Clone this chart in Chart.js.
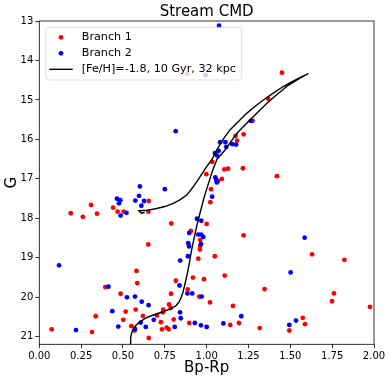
<!DOCTYPE html>
<html>
<head>
<meta charset="utf-8">
<script src="https://cdn.jsdelivr.net/npm/chart.js@4.4.1/dist/chart.umd.min.js"></script>
<style>
  html, body { margin: 0; padding: 0; background: #fff; }
</style>
</head>
<body>
<canvas id="cmd" width="390" height="382"></canvas>
<script>
// Branch 1 (red)
const branch1Color = [0.883, 1.450, 1.368, 1.275, 1.221, 1.173, 1.182, 1.034, 1.106, 1.128, 1.217, 1.420,
  0.998, 1.070, 1.091, 1.026, 1.022, 0.654, 0.309, 0.441, 0.468, 0.504, 0.188, 0.260, 0.345, 0.652,
  1.000, 0.789, 0.906, 1.221, 0.962, 0.651, 0.961, 0.960, 1.049, 0.950, 1.630, 1.823, 0.581, 1.108,
  0.918, 0.984, 0.816, 0.585, 0.394, 0.887, 1.346, 0.486, 0.787, 1.761, 0.956, 1.020, 1.749, 1.157,
  0.775, 0.785, 0.741, 0.739, 0.576, 0.516, 1.976, 0.337, 0.619, 0.703, 0.502, 0.803, 1.574, 0.727,
  0.896, 1.193, 1.141, 1.588, 0.550, 0.761, 0.733, 0.773, 0.570, 1.317, 1.494, 0.074, 0.315, 0.654]
const branch1Mag = [14.34, 14.31, 14.97, 15.53, 15.87, 15.91, 16.03, 16.57, 16.76, 16.74, 16.73, 16.93,
  16.88, 17.05, 17.00, 17.26, 17.59, 17.56, 17.66, 17.73, 17.83, 17.83, 17.87, 17.96, 17.88, 17.83,
  18.14, 18.13, 18.32, 18.43, 18.55, 18.66, 18.70, 18.79, 18.96, 19.02, 18.91, 19.05, 19.33, 19.45,
  19.50, 19.54, 19.58, 19.64, 19.74, 19.80, 19.79, 19.91, 19.91, 19.90, 19.98, 20.13, 20.10, 20.22,
  20.18, 20.27, 20.31, 20.38, 20.31, 20.36, 20.24, 20.48, 20.47, 20.46, 20.57, 20.56, 20.52, 20.63,
  20.65, 20.65, 20.70, 20.68, 20.73, 20.77, 20.81, 20.81, 20.84, 20.78, 20.84, 20.81, 20.88, 21.03]

// Branch 2 (blue)
const branch2Color = [1.074, 0.994, 1.264, 0.815, 1.080, 1.112, 1.153, 1.176, 1.117, 1.072, 1.050, 1.062,
  1.052, 1.057, 1.061, 1.033, 0.750, 0.601, 0.596, 0.574, 0.626, 0.610, 0.464, 0.484, 0.476, 0.521,
  0.486, 0.942, 0.968, 0.896, 0.950, 0.967, 0.980, 1.586, 0.890, 0.895, 0.966, 0.888, 0.842, 0.118,
  1.502, 0.838, 0.413, 0.885, 0.914, 0.970, 0.524, 0.572, 0.612, 0.653, 0.436, 0.841, 0.845, 0.684,
  1.207, 1.534, 0.606, 0.929, 1.100, 0.966, 1.000, 1.494, 0.472, 0.636, 0.809, 0.572, 0.219]
const branch2Mag = [13.12, 14.37, 15.53, 15.79, 16.07, 16.07, 16.12, 16.13, 16.19, 16.29, 16.35, 16.41,
  16.96, 17.03, 17.09, 17.45, 17.26, 17.19, 17.43, 17.55, 17.56, 17.68, 17.50, 17.54, 17.62, 17.86,
  17.93, 18.01, 18.06, 18.37, 18.41, 18.41, 18.47, 18.49, 18.63, 18.71, 18.65, 18.96, 19.07, 19.19,
  19.37, 19.70, 19.73, 19.90, 19.90, 19.98, 20.00, 19.98, 20.11, 20.20, 20.35, 20.38, 20.53, 20.57,
  20.48, 20.59, 20.64, 20.65, 20.66, 20.71, 20.75, 20.70, 20.74, 20.75, 20.75, 20.80, 20.83]

// isochrone [Fe/H]=-1.8, 10 Gyr, 32 kpc
const isoColor = [0.541, 0.543, 0.546, 0.556, 0.575, 0.602, 0.630, 0.661, 0.721, 0.781, 0.815, 0.835,
  0.848, 0.858, 0.871, 0.885, 0.898, 0.908, 0.920, 0.940, 0.960, 0.986, 1.012, 1.036, 1.062, 1.110,
  1.143, 1.180, 1.220, 1.259, 1.310, 1.359, 1.420, 1.478, 1.545, 1.607,
  1.560, 1.500, 1.458, 1.400, 1.339, 1.290, 1.239, 1.199, 1.139, 1.095, 1.060, 1.030, 1.000, 0.960,
  0.920, 0.881, 0.840, 0.801, 0.750, 0.701, 0.650, 0.622, 0.595, 0.610, 0.630]
const isoMag = [21.40, 21.19, 21.00, 20.85, 20.72, 20.62, 20.54, 20.48, 20.39, 20.30, 20.22, 20.12,
  20.00, 19.88, 19.65, 19.39, 19.10, 18.85, 18.60, 18.21, 17.87, 17.45, 17.10, 16.78, 16.50, 16.27,
  16.07, 15.85, 15.67, 15.51, 15.29, 15.09, 14.86, 14.66, 14.48, 14.33,
  14.43, 14.56, 14.66, 14.82, 15.00, 15.16, 15.34, 15.51, 15.76, 16.02, 16.27, 16.52, 16.69, 16.95,
  17.20, 17.41, 17.53, 17.62, 17.70, 17.75, 17.79, 17.80, 17.81, 17.87, 17.85]

const xTicks = [0, 0.25, 0.5, 0.75, 1, 1.25, 1.5, 1.75, 2]
const yTicks = [13, 14, 15, 16, 17, 18, 19, 20, 21]

const toPoints = (xs, ys) => xs.map((x, i) => ({x: x, y: ys[i]}))

Chart.defaults.font.family = '"DejaVu Sans", sans-serif'
Chart.defaults.color = '#000'

// frame + matplotlib style legend drawn over the data
const frameAndLegend = {
  id: 'frameAndLegend',
  afterDatasetsDraw(chart) {
    const ctx = chart.ctx
    const a = chart.chartArea
    ctx.save()
    ctx.strokeStyle = '#000'
    ctx.lineWidth = 0.8
    ctx.strokeRect(a.left, a.top, a.right - a.left, a.bottom - a.top)

    const x = a.left + 6.4, y = a.top + 6.3, w = 196, h = 52.7, r = 3
    ctx.beginPath()
    ctx.moveTo(x + r, y)
    ctx.arcTo(x + w, y, x + w, y + h, r)
    ctx.arcTo(x + w, y + h, x, y + h, r)
    ctx.arcTo(x, y + h, x, y, r)
    ctx.arcTo(x, y, x + w, y, r)
    ctx.closePath()
    ctx.fillStyle = 'rgba(255,255,255,0.8)'
    ctx.fill()
    ctx.strokeStyle = 'rgba(204,204,204,0.8)'
    ctx.lineWidth = 0.8
    ctx.stroke()

    ctx.font = '11.2px "DejaVu Sans"'
    ctx.textBaseline = 'middle'
    chart.data.datasets.forEach((ds, i) => {
      const rowY = y + 10 + i * 16
      if (ds.showLine) {
        ctx.beginPath()
        ctx.moveTo(x + 3.6, rowY)
        ctx.lineTo(x + 27, rowY)
        ctx.strokeStyle = ds.borderColor
        ctx.lineWidth = ds.borderWidth
        ctx.stroke()
      } else {
        ctx.beginPath()
        ctx.arc(x + 15.3, rowY, ds.pointRadius, 0, Math.PI * 2)
        ctx.fillStyle = ds.backgroundColor
        ctx.fill()
      }
      ctx.fillStyle = '#000'
      ctx.fillText(ds.label, x + 36, rowY)
    })
    ctx.restore()
  }
}

new Chart(document.getElementById('cmd'), {
  type: 'scatter',
  plugins: [frameAndLegend],
  data: {
    datasets: [{
      label: 'Branch 1',
      data: toPoints(branch1Color, branch1Mag),
      backgroundColor: '#ff0000',
      borderWidth: 0,
      pointRadius: 2.4,
      order: 2,
    }, {
      label: 'Branch 2',
      data: toPoints(branch2Color, branch2Mag),
      backgroundColor: '#0000ff',
      borderWidth: 0,
      pointRadius: 2.4,
      order: 1,
    }, {
      label: '[Fe/H]=-1.8, 10 Gyr, 32 kpc',
      data: toPoints(isoColor, isoMag),
      showLine: true,
      borderColor: '#000',
      borderWidth: 1.4,
      pointRadius: 0,
      tension: 0,
      order: 0,
    }]
  },
  options: {
    responsive: false,
    animation: false,
    events: [],
    layout: {
      padding: {top: 0, right: 16, bottom: 0, left: 0}
    },
    scales: {
      x: {
        type: 'linear',
        min: 0,
        max: 2,
        afterBuildTicks: (s) => { s.ticks = xTicks.map(v => ({value: v})) },
        afterFit: (s) => { s.height = 37.7 },
        ticks: {
          callback: (v) => v.toFixed(2),
          font: {size: 10},
          color: '#000',
          padding: 2,
          maxRotation: 0,
        },
        grid: {
          drawOnChartArea: false,
          tickLength: 4,
          color: '#000',
          tickWidth: 0.8,
        },
        border: {display: false},
        title: {
          display: true,
          text: 'Bp-Rp',
          font: {size: 15},
          color: '#000',
          padding: {top: 0, bottom: 4.5},
        },
      },
      y: {
        type: 'linear',
        min: 13,
        max: 21.19,
        reverse: true,
        afterBuildTicks: (s) => { s.ticks = yTicks.map(v => ({value: v})) },
        afterFit: (s) => { s.width = 39.3 },
        ticks: {
          font: {size: 10},
          color: '#000',
          padding: 2,
        },
        grid: {
          drawOnChartArea: false,
          tickLength: 4,
          color: '#000',
          tickWidth: 0.8,
        },
        border: {display: false},
        title: {
          display: true,
          text: 'G',
          font: {size: 15},
          color: '#000',
          padding: {top: 3, bottom: 0},
        },
      }
    },
    plugins: {
      legend: {display: false},
      tooltip: {enabled: false},
      title: {
        display: true,
        text: 'Stream CMD',
        fullSize: false,
        font: {size: 15, weight: 'normal'},
        color: '#000',
        padding: {top: 3, bottom: 0},
      }
    }
  }
})
</script>
</body>
</html>
